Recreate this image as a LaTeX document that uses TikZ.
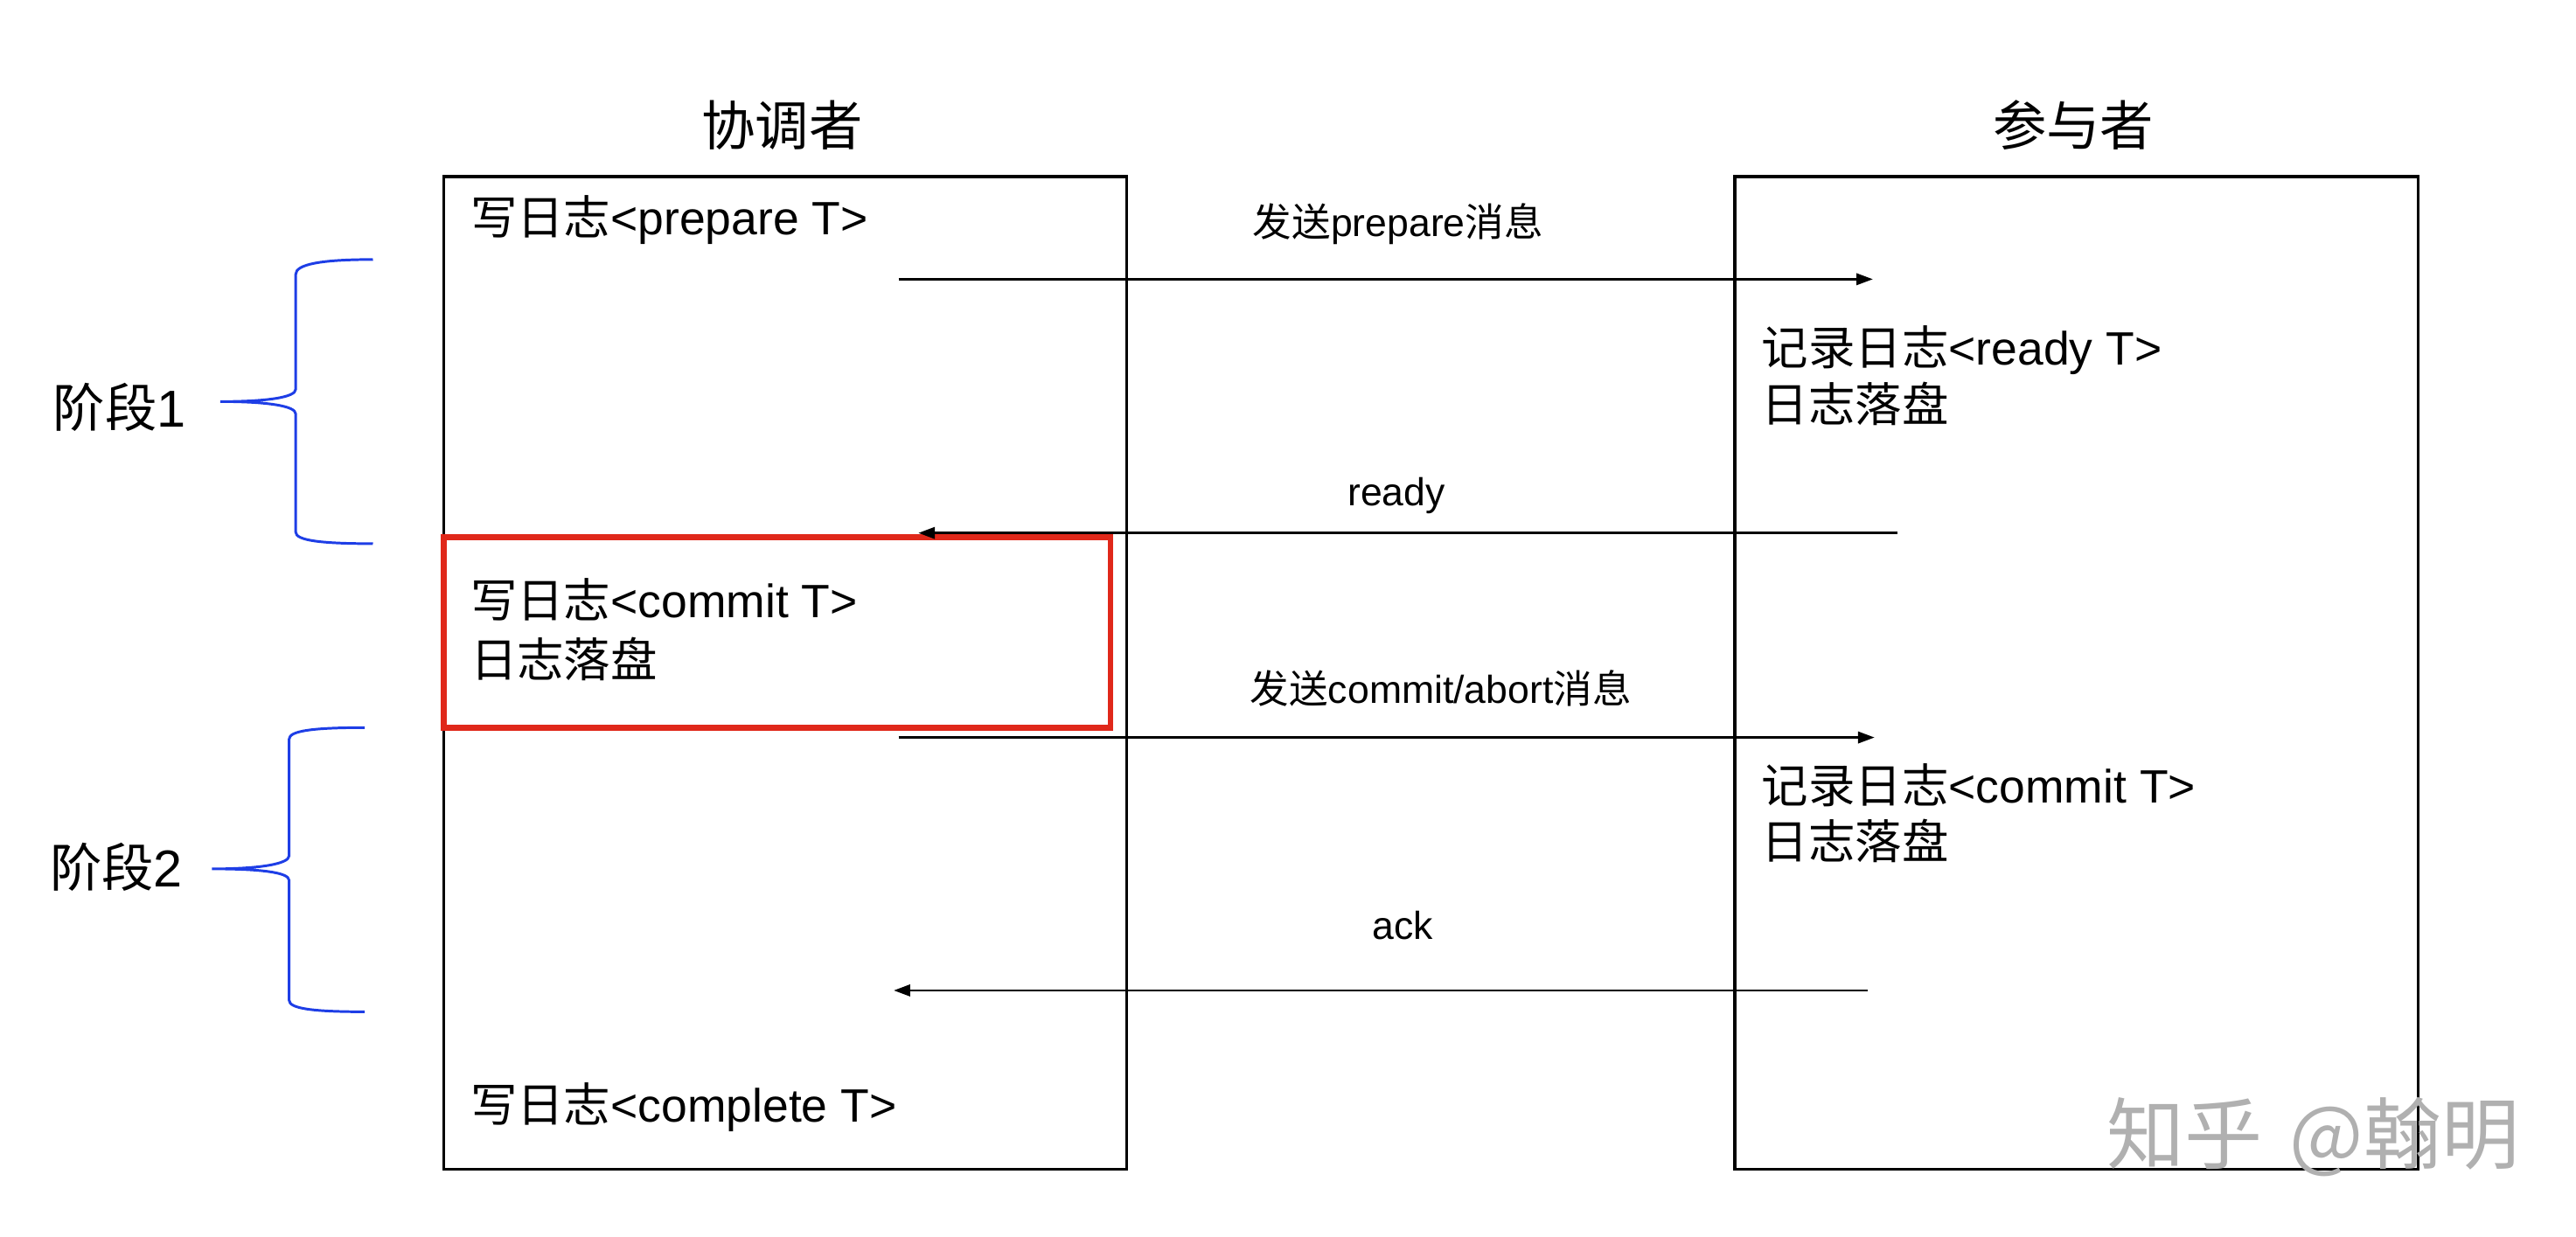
\documentclass[tikz,border=0pt]{standalone}
\usepackage{fontspec}
\setmainfont{Liberation Sans}
\newfontfamily\cjk{Noto Sans CJK SC}
\usetikzlibrary{arrows.meta}
\definecolor{redbox}{RGB}{224,40,26}
\definecolor{braceblue}{RGB}{30,62,230}
\definecolor{wmgray}{RGB}{176,176,176}
\begin{document}
\begin{tikzpicture}[x=0.02cm,y=-0.02cm,
  boxtxt/.style={anchor=base west,inner sep=0pt,font=\fontsize{16.2}{19}\selectfont},
  msg/.style={anchor=base,inner sep=0pt,font=\fontsize{13.5}{16}\selectfont},
  title/.style={anchor=base,inner sep=0pt,font=\fontsize{18.6}{22}\selectfont\cjk},
  phase/.style={anchor=base west,inner sep=0pt,font=\fontsize{18}{22}\selectfont},
  party/.style={draw=black,line width=1pt,inner sep=0pt,minimum width=8.32cm,minimum height=12.09cm},
  highlight/.style={draw=redbox,line width=2pt,inner sep=0pt,minimum width=8.12cm,minimum height=2.32cm},
  msgarrow/.style={line width=0.8pt,-{Triangle[length=0.2cm,width=0.14cm]}},
  brace/.style={draw=braceblue,line width=0.9pt}]
\useasboundingbox (0,0) rectangle (1568,753);

% boxes
\node[party] (coord) at (478,409.75) {};
\node[party] (part) at (1264,409.75) {};
\node[highlight] (red) at (473,385) {};

% titles
\node[title] (tc) at (476,88.5) {协调者};
\node[title] (tp) at (1262,88.5) {参与者};

% coordinator texts
\node[boxtxt] (l1) at (286,143) {{\cjk 写日志}<prepare T>};
\node[boxtxt] (l2) at (286,376) {{\cjk 写日志}<commit T>};
\node[boxtxt] (l3) at (286,412) {\cjk 日志落盘};
\node[boxtxt] (l4) at (286,683) {{\cjk 写日志}<complete T>};

% participant texts
\node[boxtxt] (r1) at (1072,222) {{\cjk 记录日志}<ready T>};
\node[boxtxt] (r2) at (1072,257) {\cjk 日志落盘};
\node[boxtxt] (r3) at (1072,489) {{\cjk 记录日志}<commit T>};
\node[boxtxt] (r4) at (1072,523) {\cjk 日志落盘};

% messages
\coordinate (a1s) at (547,170);
\coordinate (a1e) at (1140,170);
\coordinate (a2s) at (1155,324.5);
\coordinate (a2e) at (559,324.5);
\coordinate (a3s) at (547,449);
\coordinate (a3e) at (1141,449);
\coordinate (a4s) at (1137,603);
\coordinate (a4e) at (544,603);
\draw[msgarrow] (a1s) -- (a1e);
\draw[msgarrow] (a2s) -- (a2e);
\draw[msgarrow] (a3s) -- (a3e);
\draw[msgarrow] (a4s) -- (a4e);

\node[msg] (m1) at (851,144) {{\cjk 发送}prepare{\cjk 消息}};
\node[msg] (m2) at (850,308) {ready};
\node[msg] (m3) at (877,428) {{\cjk 发送}commit/abort{\cjk 消息}};
\node[msg] (m4) at (854,572) {ack};

% braces
\draw[brace] (227,158) .. controls (195,158) and (180,161) .. (180,167)
  -- (180,237) .. controls (180,242) and (162,244.5) .. (134,244.5)
  .. controls (162,244.5) and (180,247) .. (180,252)
  -- (180,324) .. controls (180,329) and (195,331) .. (227,331);
\draw[brace] (222,443) .. controls (190,443) and (176,445) .. (176,450)
  -- (176,521) .. controls (176,526) and (158,529) .. (129,529)
  .. controls (158,529) and (176,531) .. (176,536)
  -- (176,609) .. controls (176,614) and (190,616) .. (222,616);

\node[phase] (ph1) at (32,260) {{\cjk 阶段}1};
\node[phase] (ph2) at (30,540) {{\cjk 阶段}2};

% watermark
\node[anchor=base west,inner sep=0pt,text=wmgray,font=\fontsize{27}{30}\selectfont\cjk] (wm) at (1282,708) {知乎\hspace{0.35em}@翰明};
\end{tikzpicture}
\end{document}
